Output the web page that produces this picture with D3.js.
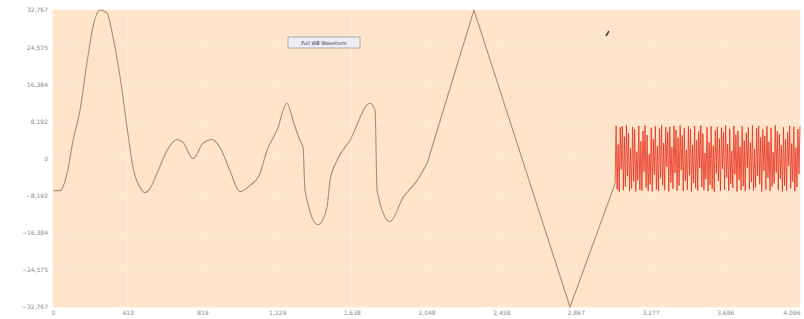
<!DOCTYPE html>
<html>
<head>
<meta charset="utf-8">
<script src="https://cdn.jsdelivr.net/npm/d3@7"></script>
<style>
  body { margin: 0; background: #fff; }
  text { font-family: "DejaVu Sans", sans-serif; }
</style>
</head>
<body>
<div id="viz"></div>
<script>
// smooth part of the waveform: sample index / amplitude
const waveSamples = [0, 38, 77, 110, 148, 186, 219, 258, 296, 329, 368, 406, 439, 477, 504, 532, 570, 625, 680, 713,
  768, 822, 872, 916, 970, 1025, 1080, 1135, 1173, 1228, 1283, 1316, 1354, 1371, 1382, 1453, 1502, 1519, 1557, 1628,
  1738, 1766, 1777, 1848, 1919, 1996, 2051]
const waveValues = [-7100, -7085, -3321, 3985, 10627, 21033, 29003, 32767, 32103, 26789, 17933, 6863, -1993, -6421, -7528, -6642, -3321, 1771, 4207, 3542,
  0, 3321, 4207, 2435, -2657, -7306, -5978, -3321, 1771, 6199, 12177, 8413, 3985, 2435, -7085, -14612, -10849, -4871, -443, 3985,
  12177, 10627, -7085, -13948, -8635, -4871, -1107]

// straight triangle ramps after that
const rampSamples = [2051, 2308, 2835, 3082]
const rampValues = [-1107, 32767, -32767, -5535]

// noisy tail (red), read as alternating peaks
const noiseStart = 3082
const noiseEnd = 4096
const noiseValues = [
  -5500, 7200, -6800, 3100, -7300, 6900, -2400, 7100, -7000, 4800, -6200, 7300, -3900, 5600, -7200, 2200, -6600, 7000, -5100, 6400,
  -7300, 1500, -4800, 7200, -6900, 3800, -7100, 6100, -2900, 7300, -6400, 5200, -7200, 900, -5700, 6800, -7300, 4300, -3600, 7100,
  -6800, 2700, -7200, 6600, -4400, 7300, -5900, 3400, -7000, 6900, -1800, 5800, -7300, 7000, -5300, 2500, -6700, 7200, -3200, 6300,
  -7100, 4600, -6000, 7300, -2600, 5100, -7200, 6700, -4900, 1900, -6900, 7100, -3700, 6500, -7300, 3000, -5400, 7200, -6600, 4100,
  -7100, 6000, -2100, 7300, -6300, 5500, -7000, 1200, -4600, 6900, -7200, 3600, -5800, 7100, -6700, 2800, -7300, 6200, -3300, 7000,
  -5000, 4400, -7200, 6800, -2300, 5900, -6900, 7300, -4200, 3200, -7100, 6600, -5600, 1700, -6500, 7200, -3500, 5300, -7300, 6100,
  -4700, 2600, -7000, 7100, -6100, 4000, -7200, 5700, -2000, 6900, -6800, 3500, -5200, 7300, -7100, 2100, -6400, 6700, -3800, 7200,
  -5700, 4700, -7300, 6400, -2700, 5000, -6900, 7100, -4300, 3700, -7200, 6800, -6200, 1400, -5500, 7300, -3100, 6000, -7000, 5400,
  -4500, 2900, -7300, 6900, -6000, 4200, -7100, 5800, -1600, 7200, -6600, 3300, -5100, 7000, -7200, 2400, -6300, 6500, -3400, 7100
]

const xTicks = [0, 410, 819, 1229, 1638, 2048, 2458, 2867, 3277, 3686, 4096]
const yTicks = [-32767, -24575, -16384, -8192, 0, 8192, 16384, 24575, 32767]
const legendLabel = 'Full WB Waveform'

let dimensions = {
  width: 804,
  height: 319,
  margin: { top: 10, right: 4, bottom: 12, left: 53 },
}
dimensions.boundedWidth = dimensions.width - dimensions.margin.left - dimensions.margin.right
dimensions.boundedHeight = dimensions.height - dimensions.margin.top - dimensions.margin.bottom

const wrapper = d3.select('#viz')
  .append('svg')
  .attr('width', dimensions.width)
  .attr('height', dimensions.height)

const bounds = wrapper.append('g')
  .attr('transform', `translate(${dimensions.margin.left},${dimensions.margin.top})`)

const xScale = d3.scaleLinear()
  .domain([0, 4096])
  .range([0, dimensions.boundedWidth])

const yScale = d3.scaleLinear()
  .domain([-32767, 32767])
  .range([dimensions.boundedHeight, 0])

// plot background
bounds.append('rect')
  .attr('width', dimensions.boundedWidth)
  .attr('height', dimensions.boundedHeight)
  .attr('fill', '#fde4cb')

// grid (very faint)
bounds.append('g')
  .selectAll('line')
  .data(xTicks)
  .join('line')
  .attr('x1', d => xScale(d)).attr('x2', d => xScale(d))
  .attr('y1', 0).attr('y2', dimensions.boundedHeight)
  .attr('stroke', '#feeddc')
  .attr('stroke-width', 1)

bounds.append('g')
  .selectAll('line')
  .data(yTicks)
  .join('line')
  .attr('x1', 0).attr('x2', dimensions.boundedWidth)
  .attr('y1', d => yScale(d)).attr('y2', d => yScale(d))
  .attr('stroke', '#feebd8')
  .attr('stroke-width', 1)

// axes
const xAxis = bounds.append('g')
  .attr('transform', `translate(0,${dimensions.boundedHeight})`)
  .call(d3.axisBottom(xScale).tickValues(xTicks).tickSize(0).tickPadding(4).tickFormat(d3.format(',')))
xAxis.select('.domain').remove()
xAxis.selectAll('text').attr('fill', '#8a8a8a').style('font-size', '6px')
xAxis.selectAll('.tick:last-of-type text').attr('text-anchor', 'end')

const yAxis = bounds.append('g')
  .call(d3.axisLeft(yScale).tickValues(yTicks).tickSize(0).tickPadding(5).tickFormat(d3.format(',')))
yAxis.select('.domain').remove()
yAxis.selectAll('text').attr('fill', '#8a8a8a').style('font-size', '6px')

// waveform
const wave = waveSamples.map((s, i) => ({ x: s, y: waveValues[i] }))
const ramp = rampSamples.map((s, i) => ({ x: s, y: rampValues[i] }))
const noiseStep = (noiseEnd - noiseStart) / (noiseValues.length - 1)
const noise = noiseValues.map((v, i) => ({ x: noiseStart + i * noiseStep, y: v }))

const smoothLine = d3.line()
  .x(d => xScale(d.x))
  .y(d => yScale(d.y))
  .curve(d3.curveMonotoneX)

const straightLine = d3.line()
  .x(d => xScale(d.x))
  .y(d => yScale(d.y))

bounds.append('path')
  .attr('d', smoothLine(wave))
  .attr('fill', 'none')
  .attr('stroke', '#b68a68')
  .attr('stroke-width', 1.1)

bounds.append('path')
  .attr('d', straightLine(ramp))
  .attr('fill', 'none')
  .attr('stroke', '#b68a68')
  .attr('stroke-width', 1.1)

bounds.append('path')
  .attr('d', straightLine(noise))
  .attr('fill', 'none')
  .attr('stroke', '#e8321e')
  .attr('stroke-width', 0.9)
  .attr('stroke-opacity', 0.9)

// legend
const legend = bounds.append('g')
  .attr('transform', `translate(${288 - dimensions.margin.left},${37 - dimensions.margin.top})`)
legend.append('rect')
  .attr('width', 72).attr('height', 11)
  .attr('fill', '#eeeef2')
  .attr('stroke', '#999')
  .attr('stroke-width', 0.8)
legend.append('text')
  .attr('x', 36).attr('y', 7.5)
  .attr('text-anchor', 'middle')
  .style('font-size', '5px')
  .attr('fill', '#335')
  .text(legendLabel)

// small cursor mark
wrapper.append('line')
  .attr('x1', 606).attr('y1', 36).attr('x2', 609).attr('y2', 31)
  .attr('stroke', '#444')
  .attr('stroke-width', 1.6)
</script>
</body>
</html>
